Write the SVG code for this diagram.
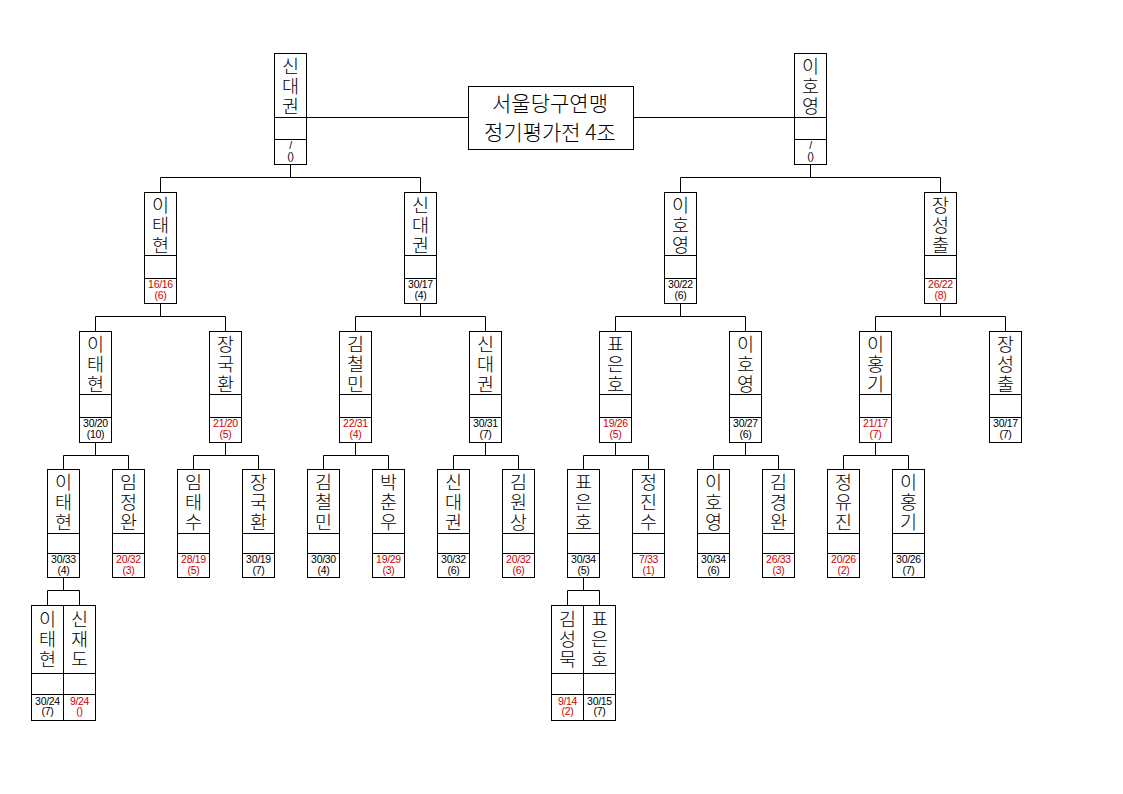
<svg xmlns="http://www.w3.org/2000/svg" width="1123" height="794" viewBox="0 0 1123 794">
<style>
.box{fill:#fff;stroke:#000;stroke-width:1}
.sep{stroke:#000;stroke-width:1}
.nm{font-family:"Noto Sans CJK KR","Noto Sans",sans-serif;font-size:18.5px;font-weight:300;text-anchor:middle;fill:#000}
.ttl{font-family:"Noto Sans CJK KR","Noto Sans",sans-serif;font-size:21px;font-weight:300;text-anchor:middle;fill:#000}
.sc{font-family:"Liberation Sans",Arial,sans-serif;font-size:10.5px;text-anchor:middle;fill:#000;letter-spacing:-0.3px}
.red{fill:#cc0000}
.cn{fill:none;stroke:#000;stroke-width:1}
</style>
<rect width="1123" height="794" fill="#fff"/>
<g id="connectors" class="cn">
<path d="M306 117.5H468 M633 117.5H794"/>
<path d="M290.5 164V177.5 M160.5 192V177.5H420.5V192"/>
<path d="M810.5 164V177.5 M680.5 192V177.5H940.5V192"/>
<path d="M160.5 303V316.5 M95.5 331V316.5H225.5V331"/>
<path d="M420.5 303V316.5 M355.5 331V316.5H485.5V331"/>
<path d="M680.5 303V316.5 M615.5 331V316.5H745.5V331"/>
<path d="M940.5 303V316.5 M875.5 331V316.5H1005.5V331"/>
<path d="M95.5 442V455.5 M63.5 469V455.5H128.5V469"/>
<path d="M225.5 442V455.5 M193.5 469V455.5H258.5V469"/>
<path d="M355.5 442V455.5 M323.5 469V455.5H388.5V469"/>
<path d="M485.5 442V455.5 M453.5 469V455.5H518.5V469"/>
<path d="M615.5 442V455.5 M583.5 469V455.5H648.5V469"/>
<path d="M745.5 442V455.5 M713.5 469V455.5H778.5V469"/>
<path d="M875.5 442V455.5 M843.5 469V455.5H908.5V469"/>
<path d="M63.5 577V590.5 M47.5 605V590.5H79.5V605"/>
<path d="M583.5 577V590.5 M567.5 605V590.5H599.5V605"/>
</g>
<g id="title">
<rect class="box" x="468.5" y="86.5" width="165" height="63"/>
<text class="ttl" x="550" y="111">서울당구연맹</text>
<text class="ttl" x="550" y="140">정기평가전 4조</text>
</g>
<!-- Top level -->
<g id="t-shin">
<rect class="box" x="274.5" y="53.5" width="32" height="111"/>
<path class="sep" d="M274.5 117.5H306.5 M274.5 139.5H306.5"/>
<text class="nm"><tspan x="290.5" y="72.5">신</tspan><tspan x="290.5" y="93">대</tspan><tspan x="290.5" y="113">권</tspan></text>
<text class="sc"><tspan x="290.5" y="149">/</tspan><tspan x="290.5" y="159.5">()</tspan></text>
</g>
<g id="t-lee">
<rect class="box" x="794.5" y="53.5" width="32" height="111"/>
<path class="sep" d="M794.5 117.5H826.5 M794.5 139.5H826.5"/>
<text class="nm"><tspan x="810.5" y="72.5">이</tspan><tspan x="810.5" y="93">호</tspan><tspan x="810.5" y="113">영</tspan></text>
<text class="sc"><tspan x="810.5" y="149">/</tspan><tspan x="810.5" y="159.5">()</tspan></text>
</g>
<!-- Level 2 -->
<g id="l2-1">
<rect class="box" x="144.5" y="192.5" width="32" height="111"/>
<path class="sep" d="M144.5 255.5H176.5 M144.5 278.5H176.5"/>
<text class="nm"><tspan x="160.5" y="211.5">이</tspan><tspan x="160.5" y="232">태</tspan><tspan x="160.5" y="252">현</tspan></text>
<text class="sc red"><tspan x="160.5" y="288">16/16</tspan><tspan x="160.5" y="298.5">(6)</tspan></text>
</g>
<g id="l2-2">
<rect class="box" x="404.5" y="192.5" width="32" height="111"/>
<path class="sep" d="M404.5 255.5H436.5 M404.5 278.5H436.5"/>
<text class="nm"><tspan x="420.5" y="211.5">신</tspan><tspan x="420.5" y="232">대</tspan><tspan x="420.5" y="252">권</tspan></text>
<text class="sc"><tspan x="420.5" y="288">30/17</tspan><tspan x="420.5" y="298.5">(4)</tspan></text>
</g>
<g id="l2-3">
<rect class="box" x="664.5" y="192.5" width="32" height="111"/>
<path class="sep" d="M664.5 255.5H696.5 M664.5 278.5H696.5"/>
<text class="nm"><tspan x="680.5" y="211.5">이</tspan><tspan x="680.5" y="232">호</tspan><tspan x="680.5" y="252">영</tspan></text>
<text class="sc"><tspan x="680.5" y="288">30/22</tspan><tspan x="680.5" y="298.5">(6)</tspan></text>
</g>
<g id="l2-4">
<rect class="box" x="924.5" y="192.5" width="32" height="111"/>
<path class="sep" d="M924.5 255.5H956.5 M924.5 278.5H956.5"/>
<text class="nm"><tspan x="940.5" y="211.5">장</tspan><tspan x="940.5" y="232">성</tspan><tspan x="940.5" y="252">출</tspan></text>
<text class="sc red"><tspan x="940.5" y="288">26/22</tspan><tspan x="940.5" y="298.5">(8)</tspan></text>
</g>
<!-- Level 3 -->
<g id="l3-1">
<rect class="box" x="79.5" y="331.5" width="32" height="111"/>
<path class="sep" d="M79.5 394.5H111.5 M79.5 417.5H111.5"/>
<text class="nm"><tspan x="95.5" y="350.5">이</tspan><tspan x="95.5" y="371">태</tspan><tspan x="95.5" y="391">현</tspan></text>
<text class="sc"><tspan x="95.5" y="427">30/20</tspan><tspan x="95.5" y="437.5">(10)</tspan></text>
</g>
<g id="l3-2">
<rect class="box" x="209.5" y="331.5" width="32" height="111"/>
<path class="sep" d="M209.5 394.5H241.5 M209.5 417.5H241.5"/>
<text class="nm"><tspan x="225.5" y="350.5">장</tspan><tspan x="225.5" y="371">국</tspan><tspan x="225.5" y="391">환</tspan></text>
<text class="sc red"><tspan x="225.5" y="427">21/20</tspan><tspan x="225.5" y="437.5">(5)</tspan></text>
</g>
<g id="l3-3">
<rect class="box" x="339.5" y="331.5" width="32" height="111"/>
<path class="sep" d="M339.5 394.5H371.5 M339.5 417.5H371.5"/>
<text class="nm"><tspan x="355.5" y="350.5">김</tspan><tspan x="355.5" y="371">철</tspan><tspan x="355.5" y="391">민</tspan></text>
<text class="sc red"><tspan x="355.5" y="427">22/31</tspan><tspan x="355.5" y="437.5">(4)</tspan></text>
</g>
<g id="l3-4">
<rect class="box" x="469.5" y="331.5" width="32" height="111"/>
<path class="sep" d="M469.5 394.5H501.5 M469.5 417.5H501.5"/>
<text class="nm"><tspan x="485.5" y="350.5">신</tspan><tspan x="485.5" y="371">대</tspan><tspan x="485.5" y="391">권</tspan></text>
<text class="sc"><tspan x="485.5" y="427">30/31</tspan><tspan x="485.5" y="437.5">(7)</tspan></text>
</g>
<g id="l3-5">
<rect class="box" x="599.5" y="331.5" width="32" height="111"/>
<path class="sep" d="M599.5 394.5H631.5 M599.5 417.5H631.5"/>
<text class="nm"><tspan x="615.5" y="350.5">표</tspan><tspan x="615.5" y="371">은</tspan><tspan x="615.5" y="391">호</tspan></text>
<text class="sc red"><tspan x="615.5" y="427">19/26</tspan><tspan x="615.5" y="437.5">(5)</tspan></text>
</g>
<g id="l3-6">
<rect class="box" x="729.5" y="331.5" width="32" height="111"/>
<path class="sep" d="M729.5 394.5H761.5 M729.5 417.5H761.5"/>
<text class="nm"><tspan x="745.5" y="350.5">이</tspan><tspan x="745.5" y="371">호</tspan><tspan x="745.5" y="391">영</tspan></text>
<text class="sc"><tspan x="745.5" y="427">30/27</tspan><tspan x="745.5" y="437.5">(6)</tspan></text>
</g>
<g id="l3-7">
<rect class="box" x="859.5" y="331.5" width="32" height="111"/>
<path class="sep" d="M859.5 394.5H891.5 M859.5 417.5H891.5"/>
<text class="nm"><tspan x="875.5" y="350.5">이</tspan><tspan x="875.5" y="371">홍</tspan><tspan x="875.5" y="391">기</tspan></text>
<text class="sc red"><tspan x="875.5" y="427">21/17</tspan><tspan x="875.5" y="437.5">(7)</tspan></text>
</g>
<g id="l3-8">
<rect class="box" x="989.5" y="331.5" width="32" height="111"/>
<path class="sep" d="M989.5 394.5H1021.5 M989.5 417.5H1021.5"/>
<text class="nm"><tspan x="1005.5" y="350.5">장</tspan><tspan x="1005.5" y="371">성</tspan><tspan x="1005.5" y="391">출</tspan></text>
<text class="sc"><tspan x="1005.5" y="427">30/17</tspan><tspan x="1005.5" y="437.5">(7)</tspan></text>
</g>
<!-- Level 4 -->
<g id="l4-1">
<rect class="box" x="47.5" y="469.5" width="32" height="108"/>
<path class="sep" d="M47.5 533.5H79.5 M47.5 553.5H79.5"/>
<text class="nm"><tspan x="63.5" y="488.5">이</tspan><tspan x="63.5" y="509">태</tspan><tspan x="63.5" y="529">현</tspan></text>
<text class="sc"><tspan x="63.5" y="563">30/33</tspan><tspan x="63.5" y="573.5">(4)</tspan></text>
</g>
<g id="l4-2">
<rect class="box" x="112.5" y="469.5" width="32" height="108"/>
<path class="sep" d="M112.5 533.5H144.5 M112.5 553.5H144.5"/>
<text class="nm"><tspan x="128.5" y="488.5">임</tspan><tspan x="128.5" y="509">정</tspan><tspan x="128.5" y="529">완</tspan></text>
<text class="sc red"><tspan x="128.5" y="563">20/32</tspan><tspan x="128.5" y="573.5">(3)</tspan></text>
</g>
<g id="l4-3">
<rect class="box" x="177.5" y="469.5" width="32" height="108"/>
<path class="sep" d="M177.5 533.5H209.5 M177.5 553.5H209.5"/>
<text class="nm"><tspan x="193.5" y="488.5">임</tspan><tspan x="193.5" y="509">태</tspan><tspan x="193.5" y="529">수</tspan></text>
<text class="sc red"><tspan x="193.5" y="563">28/19</tspan><tspan x="193.5" y="573.5">(5)</tspan></text>
</g>
<g id="l4-4">
<rect class="box" x="242.5" y="469.5" width="32" height="108"/>
<path class="sep" d="M242.5 533.5H274.5 M242.5 553.5H274.5"/>
<text class="nm"><tspan x="258.5" y="488.5">장</tspan><tspan x="258.5" y="509">국</tspan><tspan x="258.5" y="529">환</tspan></text>
<text class="sc"><tspan x="258.5" y="563">30/19</tspan><tspan x="258.5" y="573.5">(7)</tspan></text>
</g>
<g id="l4-5">
<rect class="box" x="307.5" y="469.5" width="32" height="108"/>
<path class="sep" d="M307.5 533.5H339.5 M307.5 553.5H339.5"/>
<text class="nm"><tspan x="323.5" y="488.5">김</tspan><tspan x="323.5" y="509">철</tspan><tspan x="323.5" y="529">민</tspan></text>
<text class="sc"><tspan x="323.5" y="563">30/30</tspan><tspan x="323.5" y="573.5">(4)</tspan></text>
</g>
<g id="l4-6">
<rect class="box" x="372.5" y="469.5" width="32" height="108"/>
<path class="sep" d="M372.5 533.5H404.5 M372.5 553.5H404.5"/>
<text class="nm"><tspan x="388.5" y="488.5">박</tspan><tspan x="388.5" y="509">춘</tspan><tspan x="388.5" y="529">우</tspan></text>
<text class="sc red"><tspan x="388.5" y="563">19/29</tspan><tspan x="388.5" y="573.5">(3)</tspan></text>
</g>
<g id="l4-7">
<rect class="box" x="437.5" y="469.5" width="32" height="108"/>
<path class="sep" d="M437.5 533.5H469.5 M437.5 553.5H469.5"/>
<text class="nm"><tspan x="453.5" y="488.5">신</tspan><tspan x="453.5" y="509">대</tspan><tspan x="453.5" y="529">권</tspan></text>
<text class="sc"><tspan x="453.5" y="563">30/32</tspan><tspan x="453.5" y="573.5">(6)</tspan></text>
</g>
<g id="l4-8">
<rect class="box" x="502.5" y="469.5" width="32" height="108"/>
<path class="sep" d="M502.5 533.5H534.5 M502.5 553.5H534.5"/>
<text class="nm"><tspan x="518.5" y="488.5">김</tspan><tspan x="518.5" y="509">원</tspan><tspan x="518.5" y="529">상</tspan></text>
<text class="sc red"><tspan x="518.5" y="563">20/32</tspan><tspan x="518.5" y="573.5">(6)</tspan></text>
</g>
<g id="l4-9">
<rect class="box" x="567.5" y="469.5" width="32" height="108"/>
<path class="sep" d="M567.5 533.5H599.5 M567.5 553.5H599.5"/>
<text class="nm"><tspan x="583.5" y="488.5">표</tspan><tspan x="583.5" y="509">은</tspan><tspan x="583.5" y="529">호</tspan></text>
<text class="sc"><tspan x="583.5" y="563">30/34</tspan><tspan x="583.5" y="573.5">(5)</tspan></text>
</g>
<g id="l4-10">
<rect class="box" x="632.5" y="469.5" width="32" height="108"/>
<path class="sep" d="M632.5 533.5H664.5 M632.5 553.5H664.5"/>
<text class="nm"><tspan x="648.5" y="488.5">정</tspan><tspan x="648.5" y="509">진</tspan><tspan x="648.5" y="529">수</tspan></text>
<text class="sc red"><tspan x="648.5" y="563">7/33</tspan><tspan x="648.5" y="573.5">(1)</tspan></text>
</g>
<g id="l4-11">
<rect class="box" x="697.5" y="469.5" width="32" height="108"/>
<path class="sep" d="M697.5 533.5H729.5 M697.5 553.5H729.5"/>
<text class="nm"><tspan x="713.5" y="488.5">이</tspan><tspan x="713.5" y="509">호</tspan><tspan x="713.5" y="529">영</tspan></text>
<text class="sc"><tspan x="713.5" y="563">30/34</tspan><tspan x="713.5" y="573.5">(6)</tspan></text>
</g>
<g id="l4-12">
<rect class="box" x="762.5" y="469.5" width="32" height="108"/>
<path class="sep" d="M762.5 533.5H794.5 M762.5 553.5H794.5"/>
<text class="nm"><tspan x="778.5" y="488.5">김</tspan><tspan x="778.5" y="509">경</tspan><tspan x="778.5" y="529">완</tspan></text>
<text class="sc red"><tspan x="778.5" y="563">26/33</tspan><tspan x="778.5" y="573.5">(3)</tspan></text>
</g>
<g id="l4-13">
<rect class="box" x="827.5" y="469.5" width="32" height="108"/>
<path class="sep" d="M827.5 533.5H859.5 M827.5 553.5H859.5"/>
<text class="nm"><tspan x="843.5" y="488.5">정</tspan><tspan x="843.5" y="509">유</tspan><tspan x="843.5" y="529">진</tspan></text>
<text class="sc red"><tspan x="843.5" y="563">20/26</tspan><tspan x="843.5" y="573.5">(2)</tspan></text>
</g>
<g id="l4-14">
<rect class="box" x="892.5" y="469.5" width="32" height="108"/>
<path class="sep" d="M892.5 533.5H924.5 M892.5 553.5H924.5"/>
<text class="nm"><tspan x="908.5" y="488.5">이</tspan><tspan x="908.5" y="509">홍</tspan><tspan x="908.5" y="529">기</tspan></text>
<text class="sc"><tspan x="908.5" y="563">30/26</tspan><tspan x="908.5" y="573.5">(7)</tspan></text>
</g>
<!-- Level 5 -->
<g id="l5-1">
<rect class="box" x="31.5" y="605.5" width="32" height="115"/>
<path class="sep" d="M31.5 673.5H63.5 M31.5 694.5H63.5"/>
<text class="nm"><tspan x="47.5" y="625.5">이</tspan><tspan x="47.5" y="646">태</tspan><tspan x="47.5" y="666">현</tspan></text>
<text class="sc"><tspan x="47.5" y="704.5">30/24</tspan><tspan x="47.5" y="715">(7)</tspan></text>
</g>
<g id="l5-2">
<rect class="box" x="63.5" y="605.5" width="32" height="115"/>
<path class="sep" d="M63.5 673.5H95.5 M63.5 694.5H95.5"/>
<text class="nm"><tspan x="79.5" y="625.5">신</tspan><tspan x="79.5" y="646">재</tspan><tspan x="79.5" y="666">도</tspan></text>
<text class="sc red"><tspan x="79.5" y="704.5">9/24</tspan><tspan x="79.5" y="715">()</tspan></text>
</g>
<g id="l5-3">
<rect class="box" x="551.5" y="605.5" width="32" height="115"/>
<path class="sep" d="M551.5 673.5H583.5 M551.5 694.5H583.5"/>
<text class="nm"><tspan x="567.5" y="625.5">김</tspan><tspan x="567.5" y="646">성</tspan><tspan x="567.5" y="666">묵</tspan></text>
<text class="sc red"><tspan x="567.5" y="704.5">9/14</tspan><tspan x="567.5" y="715">(2)</tspan></text>
</g>
<g id="l5-4">
<rect class="box" x="583.5" y="605.5" width="32" height="115"/>
<path class="sep" d="M583.5 673.5H615.5 M583.5 694.5H615.5"/>
<text class="nm"><tspan x="599.5" y="625.5">표</tspan><tspan x="599.5" y="646">은</tspan><tspan x="599.5" y="666">호</tspan></text>
<text class="sc"><tspan x="599.5" y="704.5">30/15</tspan><tspan x="599.5" y="715">(7)</tspan></text>
</g>
</svg>
